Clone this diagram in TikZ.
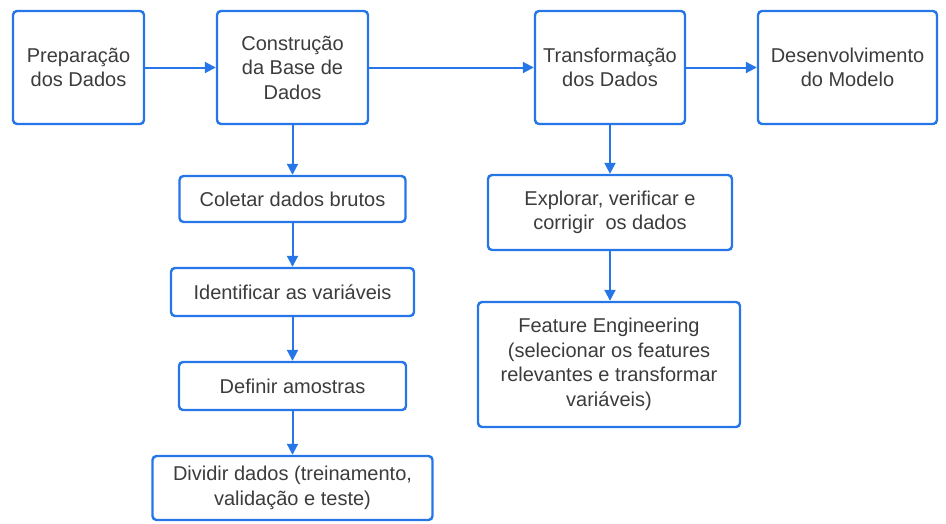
\documentclass[tikz,border=0pt]{standalone}
\usepackage{fontspec}
\setmainfont{Liberation Sans}
\usetikzlibrary{arrows.meta}
\definecolor{boxblue}{RGB}{38,118,232}
\definecolor{txtgray}{RGB}{60,60,60}
\begin{document}
\begin{tikzpicture}[x=1pt,y=-1pt,
  etapa/.style={draw=boxblue,line width=2.4pt,rounded corners=4pt,fill=white,
    text=txtgray,align=center,font=\fontsize{20}{24.5}\selectfont,inner sep=0pt},
  seta/.style={draw=boxblue,line width=2pt,-{Triangle[length=11pt,width=11pt]}}]
\useasboundingbox (0,0) rectangle (946,523);
% linha de cima
\node[etapa,minimum width=131pt,minimum height=113pt] (prep) at (78.5,67.5) {Preparação\\dos Dados};
\node[etapa,minimum width=151pt,minimum height=113pt] (base) at (292.5,67.5) {Construção\\da Base de\\Dados};
\node[etapa,minimum width=150pt,minimum height=113pt] (transf) at (610,67.5) {Transformação\\dos Dados};
\node[etapa,minimum width=179pt,minimum height=113pt] (modelo) at (847.5,67.5) {Desenvolvimento\\do Modelo};
% coluna da base de dados
\node[etapa,minimum width=226pt,minimum height=46pt] (coletar) at (292.5,199) {Coletar dados brutos};
\node[etapa,minimum width=243pt,minimum height=48pt] (ident) at (292.5,292) {Identificar as variáveis};
\node[etapa,minimum width=227pt,minimum height=48pt] (amostras) at (292.5,386) {Definir amostras};
\node[etapa,minimum width=280pt,minimum height=64pt] (dividir) at (292.5,488) {Dividir dados (treinamento,\\validação e teste)};
% coluna da transformacao
\node[etapa,minimum width=244pt,minimum height=75pt] (explorar) at (610,212.5) {Explorar, verificar e\\corrigir\ \ os dados};
\node[etapa,minimum width=262pt,minimum height=125pt] (feature) at (609,364.5) {Feature Engineering\\(selecionar os features\\relevantes e transformar\\variáveis)};
% setas
\draw[seta] (prep) -- (base);
\draw[seta] (base) -- (transf);
\draw[seta] (transf) -- (modelo);
\draw[seta] (base) -- (coletar);
\draw[seta] (coletar) -- (ident);
\draw[seta] (ident) -- (amostras);
\draw[seta] (amostras) -- (dividir);
\draw[seta] (transf) -- (transf |- explorar.north);
\draw[seta] (explorar.south -| transf) -- (transf |- feature.north);
\end{tikzpicture}
\end{document}
